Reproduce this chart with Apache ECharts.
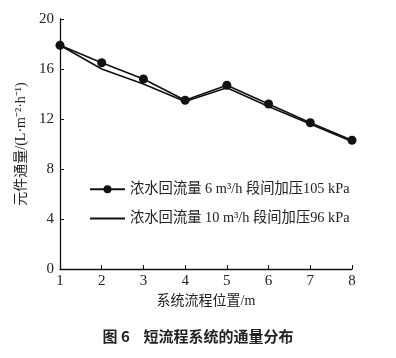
<!DOCTYPE html>
<html><head><meta charset="utf-8">
<script src="https://cdn.jsdelivr.net/npm/echarts@6/dist/echarts.min.js"></script>
<style>html,body{margin:0;padding:0;background:#fff}#c{width:396px;height:358px}</style>
</head><body><div id="c"></div>
<script>
const positions = [1, 2, 3, 4, 5, 6, 7, 8];
const series6Name = '浓水回流量 6 m³/h 段间加压105 kPa';
const series6 = [17.9, 16.5, 15.2, 13.5, 14.7, 13.2, 11.7, 10.3];
const series10Name = '浓水回流量 10 m³/h 段间加压96 kPa';
const series10 = [17.9, 16.0, 14.8, 13.4, 14.5, 13.0, 11.6, 10.2];
const yTicks = [0, 4, 8, 12, 16, 20];

const serif = '"Liberation Serif", "Noto Sans CJK SC", serif';
const chart = echarts.init(document.getElementById('c'), null, {renderer: 'canvas'});
chart.setOption({
  animation: false,
  backgroundColor: '#fff',
  grid: {left: 60, right: 44, top: 19, bottom: 89, containLabel: false},
  legend: {
    orient: 'vertical', left: 84, top: 177, itemWidth: 35, itemHeight: 10, itemGap: 15,
    textStyle: {fontFamily: serif, fontSize: 14.3, color: '#222'},
    data: [
      {name: series6Name},
      {name: series10Name, itemStyle: {opacity: 0}}
    ]
  },
  xAxis: {
    type: 'value', min: 1, max: 8, interval: 1,
    name: '系统流程位置/m', nameLocation: 'middle', nameGap: 25,
    nameTextStyle: {fontFamily: serif, fontSize: 14, color: '#222'},
    axisLine: {lineStyle: {color: '#111', width: 1.3}},
    axisTick: {inside: true, length: 4, lineStyle: {color: '#111'}},
    axisLabel: {fontFamily: serif, fontSize: 15, color: '#222', margin: 5},
    splitLine: {show: false}
  },
  yAxis: {
    type: 'value', min: yTicks[0], max: yTicks[yTicks.length - 1], interval: 4,
    name: '元件通量/(L·m⁻²·h⁻¹)', nameLocation: 'middle', nameGap: 32, nameRotate: 90,
    nameTextStyle: {fontFamily: serif, fontSize: 14, color: '#222'},
    axisLine: {show: true, lineStyle: {color: '#111', width: 1.3}},
    axisTick: {show: true, inside: true, length: 4, lineStyle: {color: '#111'}},
    axisLabel: {fontFamily: serif, fontSize: 15, color: '#222', margin: 6},
    splitLine: {show: false}
  },
  graphic: [{
    type: 'text', left: 'center', top: 329,
    style: {text: '图 6    短流程系统的通量分布', fontFamily: '"Noto Sans CJK SC", sans-serif', fontSize: 15, fontWeight: 'bold', fill: '#222', letterSpacing: 2.5}
  }],
  series: [
    {
      name: series6Name, type: 'line',
      data: positions.map((x, i) => [x, series6[i]]),
      symbol: 'circle', symbolSize: 9,
      lineStyle: {color: '#111', width: 1.6},
      itemStyle: {color: '#111'}
    },
    {
      name: series10Name, type: 'line',
      data: positions.map((x, i) => [x, series10[i]]),
      symbol: 'none',
      lineStyle: {color: '#111', width: 1.6},
      itemStyle: {color: '#111'}
    }
  ]
});
</script></body></html>
